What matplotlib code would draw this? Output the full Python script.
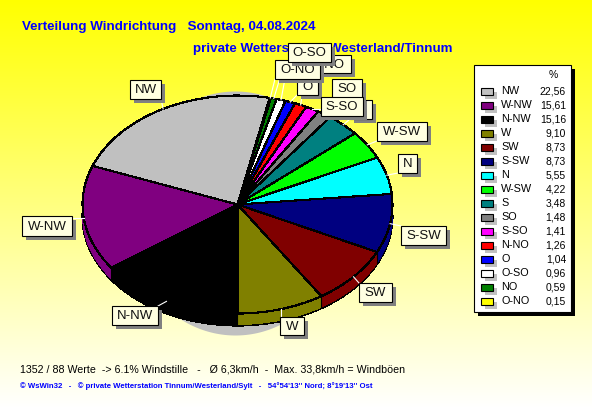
import numpy as np
import matplotlib
matplotlib.use("Agg")
import matplotlib.pyplot as plt
from matplotlib.patches import Rectangle

plt.rcParams["font.family"] = ["Liberation Sans", "DejaVu Sans"]

# legend order
directions = ["NW", "W-NW", "N-NW", "W", "SW", "S-SW", "N", "W-SW", "S", "SO", "S-SO", "N-NO", "O", "O-SO", "NO", "O-NO"]
percent = [22.56, 15.61, 15.16, 9.10, 8.73, 8.73, 5.55, 4.22, 3.48, 1.48, 1.41, 1.26, 1.04, 0.96, 0.59, 0.15]
colors = ["#c0c0c0", "#800080", "#000000", "#808000", "#800000", "#000080", "#00ffff", "#00ff00",
          "#008080", "#808080", "#ff00ff", "#ff0000", "#0000ff", "#ffffff", "#008000", "#ffff00"]
percent_labels = ["22,56", "15,61", "15,16", "9,10", "8,73", "8,73", "5,55", "4,22",
                  "3,48", "1,48", "1,41", "1,26", "1,04", "0,96", "0,59", "0,15"]

# the pie runs clockwise from the bottom, starting with N-NW
pie_order = ["N-NW", "W-NW", "NW", "O-NO", "NO", "O-SO", "O", "N-NO", "S-SO", "SO", "S", "W-SW", "N", "S-SW", "SW", "W"]

# label boxes in pixels: x0, x1, y0, y1, drawn in this order
label_boxes = {
    "NO": (280, 302, 62, 78),
    "N-NO": (305, 351, 55, 73),
    "O": (297, 318, 77, 95),
    "S": (350, 372, 100, 119),
    "SO": (332, 362, 79, 98),
    "S-SO": (321, 363, 97, 116),
    "O-NO": (275, 320, 60, 79),
    "O-SO": (288, 331, 43, 62),
    "W-SW": (377, 427, 122, 141),
    "N": (398, 417, 154, 173),
    "S-SW": (401, 446, 226, 245),
    "SW": (359, 392, 283, 302),
    "W": (280, 304, 317, 335),
    "N-NW": (112, 158, 306, 325),
    "W-NW": (22, 72, 216, 236),
    "NW": (130, 161, 80, 99),
}

W, H = 592, 407
cx, cy, rx, ry, depth = 237.5, 204.5, 155, 109, 12

fig = plt.figure(figsize=(W / 100, H / 100), dpi=100)

# background with title texts
bg = fig.add_axes([0, 0, 1, 1], zorder=0)
bg.set_xlim(0, W)
bg.set_ylim(H, 0)
bg.axis("off")
grad = np.ones((H, 1, 3))
grad[:, 0, 2] = np.arange(H) / H
bg.imshow(grad, extent=[0, W, H, 0], aspect="auto", zorder=0)
bg.text(22, 27, "Verteilung Windrichtung   Sonntag, 04.08.2024", color="#0000ff", fontsize=9.65,
        fontweight="bold", va="center", ha="left")
bg.text(193, 49, "private Wetterstation Westerland/Tinnum", color="#0000ff", fontsize=9.65,
        fontweight="bold", va="center", ha="left")
bg.text(20, 369, "1352 / 88 Werte  -> 6.1% Windstille   -   Ø 6,3km/h  -  Max. 33,8km/h = Windböen",
        color="#000000", fontsize=7.66, va="center", ha="left")
bg.text(20, 386, "© WsWin32   -   © private Wetterstation Tinnum/Westerland/Sylt   -   54°54'13'' Nord; 8°19'13'' Ost",
        color="#0000ff", fontsize=5.55, fontweight="bold", va="center", ha="left")

# silver ellipse that sticks out behind the pie at top and bottom
xs = np.linspace(125, 345, 200)
half = 122 * np.sqrt(1 - ((xs - 235) / 110) ** 2)
bg.fill_between(xs, 213 - half, 213 + half, color="#c0c0c0", lw=0, zorder=1)

# pie axes, one unit is rx / ry pixels so the circle becomes an ellipse
ax = fig.add_axes([0, 0, 1, 1], zorder=1)
ax.patch.set_alpha(0)
values = [percent[directions.index(d)] for d in pie_order]
pie_colors = [colors[directions.index(d)] for d in pie_order]
dy = depth / ry

for i in range(depth, 0, -1):
    edge = "black" if i == depth else "none"
    ax.pie(values, colors=pie_colors, startangle=270, counterclock=False, center=(0, -i / ry), radius=1,
           wedgeprops={"edgecolor": edge, "linewidth": 0.8, "antialiased": False})
wedges, _ = ax.pie(values, colors=pie_colors, startangle=270, counterclock=False, radius=1,
                   wedgeprops={"edgecolor": "black", "linewidth": 0.8, "antialiased": False})
# side edges between the front wedges
for w in wedges:
    a = np.deg2rad(w.theta1)
    if np.sin(a) < 0:
        ax.plot([np.cos(a)] * 2, [np.sin(a), np.sin(a) - dy], color="black", lw=0.8)
ax.set_aspect("auto")
ax.set_xlim(-cx / rx, (W - cx) / rx)
ax.set_ylim((cy - H) / ry, cy / ry)
ax.axis("off")

# labels and legend on top
top = fig.add_axes([0, 0, 1, 1], zorder=2)
top.set_xlim(0, W)
top.set_ylim(H, 0)
top.axis("off")
top.patch.set_alpha(0)

box_face = "#ffffe1"
for d, w in zip(pie_order, wedges):
    x0, x1, y0, y1 = label_boxes[d]
    a = np.deg2rad((w.theta1 + w.theta2) / 2)
    px = cx + rx * np.cos(a)
    py = cy - ry * np.sin(a)
    top.plot([px, np.clip(px, x0, x1)], [py, np.clip(py, y0, y1)], color="white", lw=0.8, zorder=2)

for n, (d, (x0, x1, y0, y1)) in enumerate(label_boxes.items()):
    z = 3 + n
    top.add_patch(Rectangle((x0 + 4, y0 + 4), x1 - x0, y1 - y0, fc="#808080", ec="none", zorder=z))
    top.add_patch(Rectangle((x0, y0), x1 - x0, y1 - y0, fc=box_face, ec="black", lw=0.8, zorder=z))
    top.text((x0 + x1) / 2, (y0 + y1) / 2 + 0.5, d, fontsize=9.5, ha="center", va="center", color="#111111", zorder=z)

# legend
top.add_patch(Rectangle((478, 69), 97, 247, fc="black", ec="none", zorder=30))
top.add_patch(Rectangle((474, 65), 97, 247, fc="white", ec="black", lw=0.8, zorder=31))
top.text(553, 75, "%", fontsize=7.5, ha="center", va="center", zorder=32)
for i, (d, c, lab) in enumerate(zip(directions, colors, percent_labels)):
    y = 91 + i * 14
    top.add_patch(Rectangle((485, y + 0.5), 12, 7, fc="#c0c0c0", ec="none", zorder=32))
    top.add_patch(Rectangle((481, y - 3.5), 12, 7, fc=c, ec="black", lw=0.8, zorder=33))
    top.text(501, y, d, fontsize=7.8, ha="left", va="center", zorder=33)
    top.text(566, y, lab, fontsize=7.5, ha="right", va="center", zorder=33)

fig.savefig("out.png", dpi=100)
